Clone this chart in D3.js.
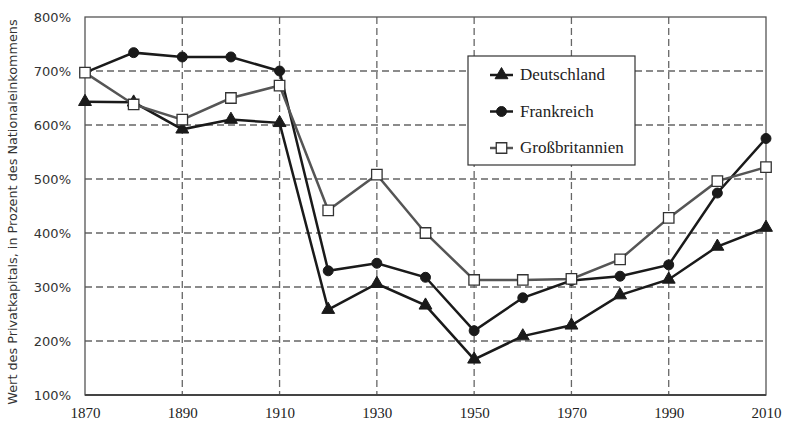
<!DOCTYPE html>
<html>
<head>
<meta charset="utf-8">
<script src="https://cdn.jsdelivr.net/npm/d3@7"></script>
<style>
  body { margin: 0; background: #fff; }
</style>
</head>
<body>
<svg width="788" height="421"></svg>
<script>
const years = [1870, 1880, 1890, 1900, 1910, 1920, 1930, 1940, 1950, 1960, 1970, 1980, 1990, 2000, 2010];
const deutschland = [643, 642, 592, 610, 604, 258, 306, 266, 166, 209, 229, 285, 314, 375, 410];
const frankreich = [697, 734, 726, 726, 700, 330, 344, 318, 219, 280, 312, 320, 341, 474, 575];
const grossbritannien = [697, 638, 610, 650, 673, 442, 508, 400, 313, 313, 315, 351, 428, 496, 522];
const xTicks = [1870, 1890, 1910, 1930, 1950, 1970, 1990, 2010];
const yTicks = [100, 200, 300, 400, 500, 600, 700, 800];

const series = [
  {name: "Deutschland", values: deutschland, color: "#1a1a1a", symbol: "triangle"},
  {name: "Frankreich", values: frankreich, color: "#1a1a1a", symbol: "circle"},
  {name: "Großbritannien", values: grossbritannien, color: "#555", symbol: "square"}
];

const svg = d3.select("svg");
const margin = {left: 85, right: 22, top: 17, bottom: 26};
const width = 788, height = 421;

const x = d3.scaleLinear().domain([1870, 2010]).range([margin.left, width - margin.right]);
const y = d3.scaleLinear().domain([100, 800]).range([height - margin.bottom, margin.top]);

// grid
const grid = svg.append("g");
grid.selectAll(".vg").data(xTicks.slice(1, -1)).enter().append("line")
    .attr("x1", d => x(d)).attr("x2", d => x(d))
    .attr("y1", y(800)).attr("y2", y(100))
    .attr("stroke", "#666").attr("stroke-width", 1.3).attr("stroke-dasharray", "7,4");
grid.selectAll(".hg").data(yTicks.slice(1, -1)).enter().append("line")
    .attr("x1", x(1870)).attr("x2", x(2010))
    .attr("y1", d => y(d)).attr("y2", d => y(d))
    .attr("stroke", "#666").attr("stroke-width", 1.3).attr("stroke-dasharray", "7,4");

// frame
svg.append("rect")
    .attr("x", x(1870)).attr("y", y(800))
    .attr("width", x(2010) - x(1870)).attr("height", y(100) - y(800))
    .attr("fill", "none").attr("stroke", "#555").attr("stroke-width", 1.3);
svg.append("line")
    .attr("x1", x(1870)).attr("x2", x(2010)).attr("y1", y(100)).attr("y2", y(100))
    .attr("stroke", "#444").attr("stroke-width", 2);

// axes labels
const xAxis = d3.axisBottom(x).tickValues(xTicks).tickFormat(d3.format("d")).tickSize(0).tickPadding(12);
svg.append("g")
    .attr("transform", `translate(0,${y(100)})`)
    .call(xAxis)
    .call(g => g.select(".domain").remove())
    .selectAll("text")
    .style("font-family", "'Liberation Serif', serif")
    .style("font-size", "15px")
    .attr("fill", "#222");

const yAxis = d3.axisLeft(y).tickValues(yTicks).tickFormat(d => d + "%").tickSize(0).tickPadding(14);
svg.append("g")
    .attr("transform", `translate(${x(1870)},0)`)
    .call(yAxis)
    .call(g => g.select(".domain").remove())
    .selectAll("text")
    .style("font-family", "'DejaVu Sans', sans-serif")
    .style("font-size", "13px")
    .attr("fill", "#333");

svg.append("text")
    .attr("transform", `translate(17,${(y(100) + y(800)) / 2 + 6}) rotate(-90)`)
    .attr("text-anchor", "middle")
    .style("font-family", "'DejaVu Sans', sans-serif")
    .style("font-size", "12.8px")
    .attr("fill", "#333")
    .text("Wert des Privatkapitals, in Prozent des Nationaleinkommens");

// lines & markers
const line = d3.line().x((d, i) => x(years[i])).y(d => y(d));
const sym = {
  triangle: d3.symbol().type(d3.symbolTriangle).size(72),
  circle: d3.symbol().type(d3.symbolCircle).size(78),
  square: d3.symbol().type(d3.symbolSquare).size(110)
};

function drawMarker(g, s, cx, cy) {
  g.append("path")
      .attr("d", sym[s.symbol]())
      .attr("transform", `translate(${cx},${cy})`)
      .attr("fill", s.symbol === "square" ? "#fff" : s.color)
      .attr("stroke", s.symbol === "square" ? "#333" : s.color)
      .attr("stroke-width", s.symbol === "square" ? 1.3 : 1);
}

// France first, then Germany, then GB so squares stay on top as in the picture
[series[1], series[0], series[2]].forEach(s => {
  const g = svg.append("g");
  g.append("path")
      .datum(s.values)
      .attr("d", line)
      .attr("fill", "none")
      .attr("stroke", s.color)
      .attr("stroke-width", 2.5);
  s.values.forEach((v, i) => drawMarker(g, s, x(years[i]), y(v)));
});

// legend
const legend = svg.append("g").attr("transform", "translate(468,56)");
legend.append("rect")
    .attr("width", 167).attr("height", 109)
    .attr("fill", "#fff").attr("stroke", "#333").attr("stroke-width", 1.2);
series.forEach((s, i) => {
  const ly = 19 + i * 36.5;
  legend.append("line")
      .attr("x1", 22).attr("x2", 45).attr("y1", ly).attr("y2", ly)
      .attr("stroke", s.color).attr("stroke-width", 2.5);
  drawMarker(legend, s, 33.5, ly);
  legend.append("text")
      .attr("x", 52).attr("y", ly + 5)
      .style("font-family", "'Liberation Serif', serif")
      .style("font-size", "17px")
      .attr("fill", "#222")
      .text(s.name);
});
</script>
</body>
</html>
